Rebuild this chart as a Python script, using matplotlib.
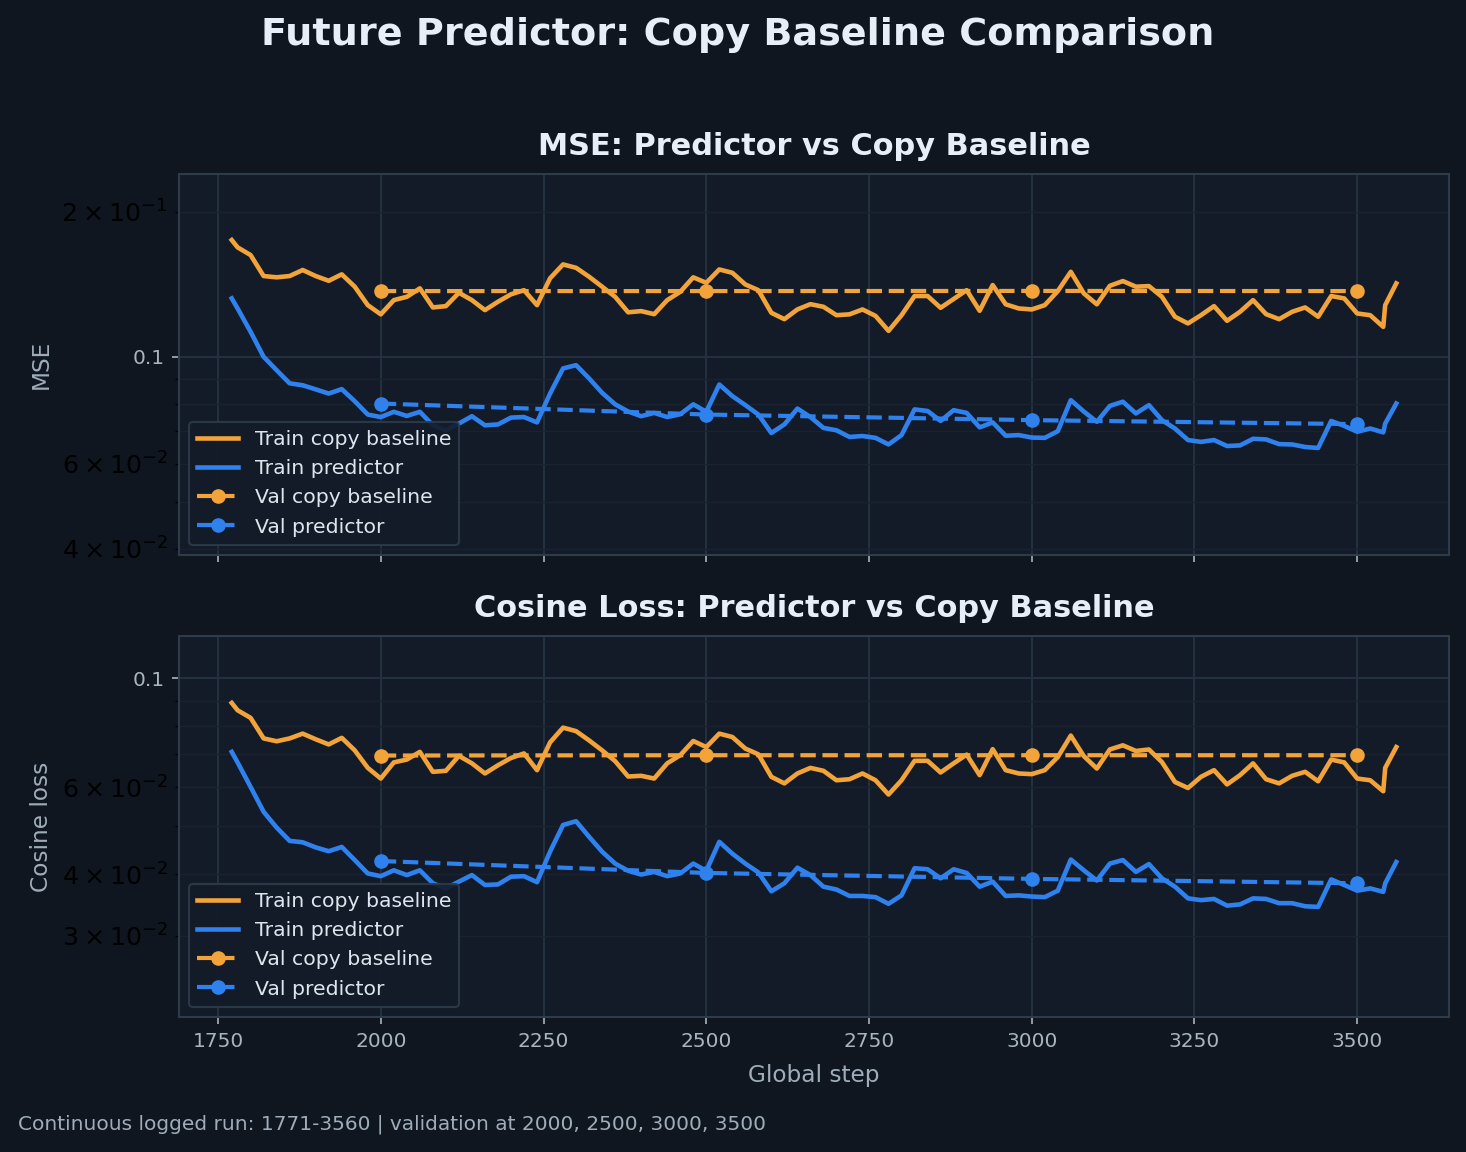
import matplotlib
matplotlib.use("Agg")
import matplotlib.pyplot as plt
from matplotlib.ticker import FuncFormatter

# ---------------- data ----------------
train_steps = [1771, 1780, 1800, 1820, 1840, 1860, 1880, 1900, 1920, 1940, 1960, 1980,
               2000, 2020, 2040, 2060, 2080, 2100, 2120, 2140, 2160, 2180, 2200, 2220,
               2240, 2260, 2280, 2300, 2320, 2340, 2360, 2380, 2400, 2420, 2440, 2460,
               2480, 2500, 2520, 2540, 2560, 2580, 2600, 2620, 2640, 2660, 2680, 2700,
               2720, 2740, 2760, 2780, 2800, 2820, 2840, 2860, 2880, 2900, 2920, 2940,
               2960, 2980, 3000, 3020, 3040, 3060, 3080, 3100, 3120, 3140, 3160, 3180,
               3200, 3220, 3240, 3260, 3280, 3300, 3320, 3340, 3360, 3380, 3400, 3420,
               3440, 3460, 3480, 3500, 3520, 3540, 3543, 3560]

train_mse_copy = [0.1747, 0.1687, 0.1626, 0.1471, 0.1462, 0.1471, 0.1514, 0.1471, 0.1438, 0.1483,
                  0.1398, 0.1280, 0.1225, 0.1311, 0.1332, 0.1387, 0.1266, 0.1274, 0.1358, 0.1311,
                  0.1250, 0.1301, 0.1348, 0.1375, 0.1280, 0.1455, 0.1555, 0.1530, 0.1466, 0.1398,
                  0.1332, 0.1237, 0.1244, 0.1226, 0.1311, 0.1364, 0.1462, 0.1424, 0.1518, 0.1494,
                  0.1413, 0.1375, 0.1234, 0.1197, 0.1254, 0.1286, 0.1270, 0.1220, 0.1225, 0.1254,
                  0.1216, 0.1132, 0.1220, 0.1337, 0.1337, 0.1264, 0.1318, 0.1375, 0.1246, 0.1409,
                  0.1285, 0.1260, 0.1254, 0.1280, 0.1369, 0.1501, 0.1354, 0.1285, 0.1404, 0.1436,
                  0.1398, 0.1402, 0.1332, 0.1211, 0.1173, 0.1220, 0.1274, 0.1188, 0.1240, 0.1311,
                  0.1226, 0.1197, 0.1240, 0.1266, 0.1211, 0.1337, 0.1322, 0.1230, 0.1220, 0.1154,
                  0.1280, 0.1420]

train_mse_pred = [0.1322, 0.1260, 0.1127, 0.1000, 0.0938, 0.0881, 0.0873, 0.0856, 0.0839, 0.0857,
                  0.0809, 0.0759, 0.0750, 0.0769, 0.0754, 0.0769, 0.0721, 0.0704, 0.0727, 0.0753,
                  0.0721, 0.0724, 0.0748, 0.0750, 0.0731, 0.0839, 0.0946, 0.0961, 0.0902, 0.0842,
                  0.0797, 0.0770, 0.0753, 0.0765, 0.0750, 0.0760, 0.0797, 0.0769, 0.0876, 0.0829,
                  0.0794, 0.0759, 0.0695, 0.0724, 0.0781, 0.0750, 0.0712, 0.0704, 0.0682, 0.0685,
                  0.0679, 0.0658, 0.0688, 0.0778, 0.0772, 0.0736, 0.0775, 0.0765, 0.0714, 0.0731,
                  0.0686, 0.0688, 0.0680, 0.0679, 0.0701, 0.0813, 0.0770, 0.0733, 0.0791, 0.0807,
                  0.0763, 0.0794, 0.0739, 0.0710, 0.0672, 0.0666, 0.0672, 0.0653, 0.0655, 0.0676,
                  0.0674, 0.0659, 0.0658, 0.0650, 0.0647, 0.0736, 0.0719, 0.0699, 0.0710, 0.0697,
                  0.0727, 0.0800]

train_cos_copy = [0.0890, 0.0860, 0.0830, 0.0754, 0.0744, 0.0754, 0.0771, 0.0751, 0.0733, 0.0756,
                  0.0713, 0.0657, 0.0625, 0.0674, 0.0683, 0.0708, 0.0645, 0.0648, 0.0695, 0.0671,
                  0.0640, 0.0665, 0.0688, 0.0703, 0.0650, 0.0740, 0.0793, 0.0780, 0.0747, 0.0713,
                  0.0678, 0.0631, 0.0633, 0.0625, 0.0671, 0.0697, 0.0745, 0.0724, 0.0771, 0.0759,
                  0.0719, 0.0700, 0.0630, 0.0611, 0.0640, 0.0657, 0.0648, 0.0620, 0.0623, 0.0640,
                  0.0620, 0.0580, 0.0620, 0.0679, 0.0679, 0.0643, 0.0671, 0.0699, 0.0635, 0.0717,
                  0.0650, 0.0640, 0.0638, 0.0650, 0.0691, 0.0764, 0.0694, 0.0655, 0.0716, 0.0730,
                  0.0711, 0.0716, 0.0675, 0.0615, 0.0598, 0.0630, 0.0650, 0.0608, 0.0635, 0.0671,
                  0.0623, 0.0611, 0.0633, 0.0645, 0.0617, 0.0683, 0.0674, 0.0625, 0.0620, 0.0589,
                  0.0657, 0.0724]

train_cos_pred = [0.0708, 0.0674, 0.0601, 0.0535, 0.0497, 0.0467, 0.0464, 0.0453, 0.0445, 0.0454,
                  0.0427, 0.0401, 0.0396, 0.0407, 0.0398, 0.0407, 0.0383, 0.0374, 0.0386, 0.0398,
                  0.0380, 0.0381, 0.0395, 0.0396, 0.0385, 0.0444, 0.0503, 0.0512, 0.0476, 0.0444,
                  0.0420, 0.0406, 0.0399, 0.0404, 0.0396, 0.0401, 0.0420, 0.0406, 0.0465, 0.0440,
                  0.0420, 0.0403, 0.0369, 0.0383, 0.0412, 0.0398, 0.0377, 0.0372, 0.0361, 0.0361,
                  0.0359, 0.0348, 0.0362, 0.0411, 0.0409, 0.0392, 0.0409, 0.0402, 0.0377, 0.0386,
                  0.0361, 0.0362, 0.0360, 0.0359, 0.0370, 0.0428, 0.0407, 0.0388, 0.0420, 0.0427,
                  0.0404, 0.0419, 0.0392, 0.0377, 0.0357, 0.0354, 0.0356, 0.0345, 0.0347, 0.0357,
                  0.0356, 0.0349, 0.0349, 0.0344, 0.0343, 0.0390, 0.0380, 0.0370, 0.0374, 0.0368,
                  0.0383, 0.0423]

val_steps = [2000, 2500, 3000, 3500]
val_mse_copy = [0.1369, 0.1369, 0.1370, 0.1369]
val_mse_pred = [0.0800, 0.0759, 0.0739, 0.0725]
val_cos_copy = [0.0696, 0.0697, 0.0697, 0.0697]
val_cos_pred = [0.0425, 0.0402, 0.0391, 0.0383]

x_ticks = [1750, 2000, 2250, 2500, 2750, 3000, 3250, 3500]

# ---------------- style ----------------
FIG_BG = "#0f161f"
AX_BG = "#121b27"
GRID_MAJ = "#253241"
GRID_MIN = "#19222e"
SPINE = "#2d3b4a"
TITLE_C = "#e8eef8"
TICK_C = "#a9b4c0"
LABEL_C = "#9fadbb"
ORANGE = "#f2a33a"
BLUE = "#2f81ee"

W, H = 1466, 1152
DPI = 150
fig = plt.figure(figsize=(W / DPI, H / DPI), dpi=DPI, facecolor=FIG_BG)

def px_axes(left, top, right, bottom):
    return [left / W, 1 - bottom / H, (right - left) / W, (bottom - top) / H]

ax1 = fig.add_axes(px_axes(179, 174, 1449, 555))
ax2 = fig.add_axes(px_axes(179, 636, 1449, 1017), sharex=ax1)

panels = [
    (ax1, train_mse_copy, train_mse_pred, val_mse_copy, val_mse_pred,
     "MSE: Predictor vs Copy Baseline", "MSE", (0.0388, 0.2395)),
    (ax2, train_cos_copy, train_cos_pred, val_cos_copy, val_cos_pred,
     "Cosine Loss: Predictor vs Copy Baseline", "Cosine loss", (0.0205, 0.1217)),
]

for ax, tc, tp, vc, vp, title, ylabel, ylim in panels:
    ax.set_facecolor(AX_BG)
    ax.plot(train_steps, tc, color=ORANGE, lw=2.2, label="Train copy baseline")
    ax.plot(train_steps, tp, color=BLUE, lw=2.2, label="Train predictor")
    ax.plot(val_steps, vc, color=ORANGE, lw=2.0, ls="--", marker="o", ms=6,
            label="Val copy baseline")
    ax.plot(val_steps, vp, color=BLUE, lw=2.0, ls="--", marker="o", ms=6,
            label="Val predictor")
    ax.set_yscale("log")
    ax.set_ylim(*ylim)
    ax.set_xlim(1690, 3641)
    ax.set_xticks(x_ticks)
    ax.yaxis.set_major_formatter(FuncFormatter(lambda v, _: f"{v:g}"))
    ax.grid(True, which="major", color=GRID_MAJ, lw=0.9)
    ax.grid(True, which="minor", axis="y", color=GRID_MIN, lw=0.7)
    ax.set_axisbelow(True)
    for s in ax.spines.values():
        s.set_color(SPINE)
        s.set_linewidth(1.0)
    ax.tick_params(which="major", colors=TICK_C, labelsize=9.7)
    ax.tick_params(which="minor", labelsize=12.2)
    ax.set_title(title, color=TITLE_C, fontsize=14.6, fontweight="bold", pad=9)
    ax.set_ylabel(ylabel, color=LABEL_C, fontsize=11.2)
    leg = ax.legend(loc="lower left", fontsize=9.8, facecolor=AX_BG, edgecolor=SPINE,
                    framealpha=0.9)
    for t in leg.get_texts():
        t.set_color("#dde5ee")

plt.setp(ax1.get_xticklabels(), visible=False)
ax2.set_xlabel("Global step", color=LABEL_C, fontsize=11.2, labelpad=6.5)

fig.suptitle("Future Predictor: Copy Baseline Comparison", x=738 / W, y=1 - 35 / H,
             va="center", color=TITLE_C, fontsize=18.3, fontweight="bold")
fig.text(18 / W, 1 - 1124 / H,
         "Continuous logged run: 1771-3560 | validation at 2000, 2500, 3000, 3500",
         color=LABEL_C, fontsize=9.7, va="center", ha="left")

fig.savefig("out.png", dpi=DPI, facecolor=FIG_BG)
